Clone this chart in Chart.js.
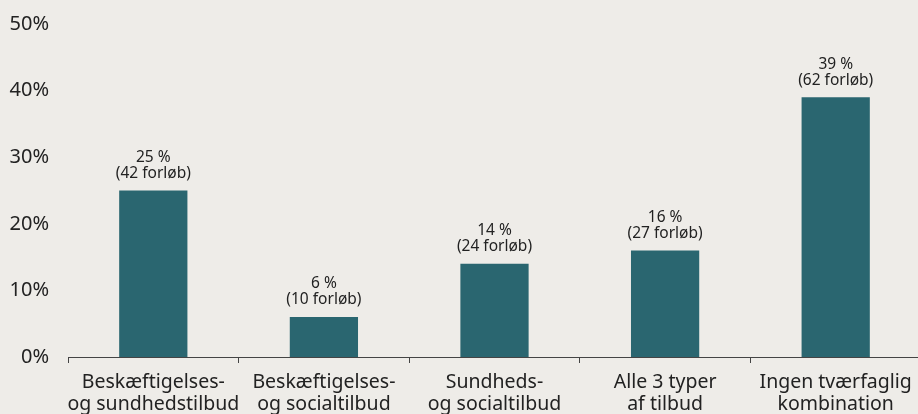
<!DOCTYPE html>
<html>
<head>
<meta charset="utf-8">
<script src="https://cdn.jsdelivr.net/npm/chart.js@4.4.0/dist/chart.umd.min.js"></script>
<style>
  html, body { margin: 0; padding: 0; background: #eeece8; overflow: hidden; }
  #wrap { width: 921px; height: 414px; position: relative; }
</style>
</head>
<body>
<div id="wrap"><canvas id="chart"></canvas></div>
<script>
var categories = [
  ["Beskæftigelses-", "og sundhedstilbud"],
  ["Beskæftigelses-", "og socialtilbud"],
  ["Sundheds-", "og socialtilbud"],
  ["Alle 3 typer", "af tilbud"],
  ["Ingen tværfaglig", "kombination"]
];
var percentValues = [25, 6, 14, 16, 39];
var forloebCounts = [42, 10, 24, 27, 62];
var yTicks = [0, 10, 20, 30, 40, 50];

var FONT = "'Noto Sans', sans-serif";

// labels above bars
var barLabels = {
  id: 'barLabels',
  afterDatasetsDraw: function(chart) {
    var ctx = chart.ctx;
    var meta = chart.getDatasetMeta(0);
    ctx.save();
    ctx.fillStyle = '#222';
    ctx.textAlign = 'center';
    ctx.textBaseline = 'middle';
    ctx.font = '15.5px ' + FONT;
    meta.data.forEach(function(bar, i) {
      ctx.fillText(percentValues[i] + ' %', bar.x, bar.y - 33);
      ctx.fillText('(' + forloebCounts[i] + ' forløb)', bar.x, bar.y - 17);
    });
    ctx.restore();
  }
};

new Chart(document.getElementById('chart'), {
  type: 'bar',
  data: {
    labels: categories,
    datasets: [{
      data: percentValues,
      backgroundColor: '#2a6670',
      barPercentage: 0.4,
      categoryPercentage: 1.0
    }]
  },
  options: {
    responsive: true,
    maintainAspectRatio: false,
    animation: false,
    layout: { padding: { top: 24, right: 0, left: 0, bottom: 0 } },
    plugins: { legend: { display: false }, tooltip: { enabled: false } },
    scales: {
      x: {
        afterFit: function(scale) { scale.height = 57; },
        grid: { display: true, drawOnChartArea: false, drawTicks: true, tickLength: 6, color: '#444', offset: true },
        border: { display: true, color: '#444', width: 1 },
        ticks: { color: '#222', font: { family: FONT, size: 19.5, lineHeight: 1.13 }, padding: 8, maxRotation: 0, autoSkip: false }
      },
      y: {
        min: 0,
        max: 50,
        afterBuildTicks: function(scale) {
          scale.ticks = yTicks.map(function(v) { return { value: v }; });
        },
        afterFit: function(scale) {
          scale.width = 68;
          scale.paddingTop = 0;
          scale.paddingBottom = 0;
        },
        grid: { display: false, drawTicks: false },
        border: { display: false },
        ticks: {
          color: '#222',
          font: { family: FONT, size: 20 },
          padding: 19,
          callback: function(v) { return v + '%'; }
        }
      }
    }
  },
  plugins: [barLabels]
});
</script>
</body>
</html>
